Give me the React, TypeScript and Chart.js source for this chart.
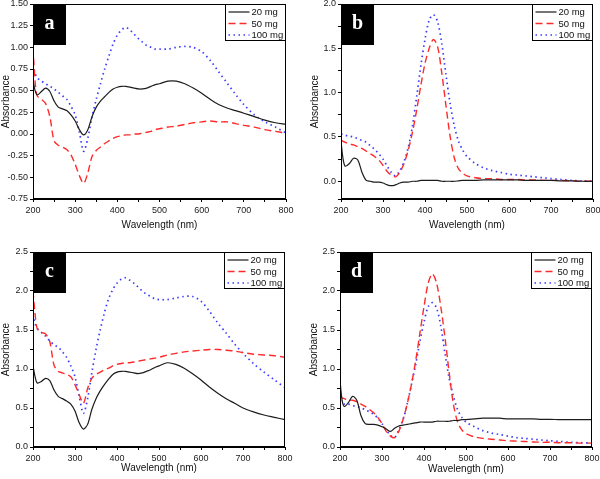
import React, { useEffect, useRef } from 'react';
import { Chart, registerables } from 'chart.js';
Chart.register(...registerables);

const wavelengths = [200, 205, 210, 220, 230, 240, 250, 260, 270, 280, 290, 300, 310, 320, 330, 340, 350, 360, 370, 380, 390, 400, 410, 420, 430, 440, 450, 460, 470, 480, 490, 500, 520, 540, 560, 580, 600, 620, 640, 660, 680, 700, 725, 750, 775, 800];

const seriesLabels = ['20 mg', '50 mg', '100 mg'];

// Panel a
const a20 = [0.62, 0.50, 0.45, 0.49, 0.53, 0.49, 0.38, 0.31, 0.29, 0.27, 0.22, 0.15, 0.05, -0.01, 0.05, 0.20, 0.31, 0.38, 0.43, 0.48, 0.52, 0.54, 0.55, 0.55, 0.54, 0.53, 0.52, 0.52, 0.53, 0.55, 0.57, 0.58, 0.61, 0.61, 0.58, 0.53, 0.47, 0.40, 0.34, 0.30, 0.27, 0.24, 0.20, 0.16, 0.13, 0.11];
const a50 = [1.00, 0.60, 0.44, 0.40, 0.35, 0.20, -0.08, -0.13, -0.15, -0.18, -0.24, -0.35, -0.48, -0.57, -0.45, -0.26, -0.19, -0.15, -0.11, -0.08, -0.05, -0.03, -0.02, -0.01, -0.01, 0.00, 0.00, 0.01, 0.02, 0.03, 0.05, 0.06, 0.08, 0.09, 0.11, 0.13, 0.14, 0.15, 0.14, 0.14, 0.12, 0.10, 0.08, 0.05, 0.03, 0.01];
const a100 = [0.80, 0.70, 0.65, 0.61, 0.58, 0.55, 0.52, 0.48, 0.44, 0.40, 0.32, 0.22, 0.02, -0.20, -0.05, 0.20, 0.40, 0.58, 0.75, 0.90, 1.04, 1.14, 1.20, 1.23, 1.20, 1.15, 1.10, 1.06, 1.02, 1.00, 0.98, 0.98, 0.98, 1.00, 1.01, 1.00, 0.95, 0.85, 0.72, 0.59, 0.46, 0.34, 0.22, 0.14, 0.08, 0.01];

// Panel b
const b20 = [0.45, 0.25, 0.17, 0.20, 0.26, 0.24, 0.10, 0.01, 0.00, -0.01, -0.01, -0.02, -0.04, -0.05, -0.04, -0.02, -0.01, -0.01, 0.00, 0.00, 0.01, 0.01, 0.01, 0.01, 0.01, 0.00, 0.00, 0.00, 0.00, 0.005, 0.01, 0.01, 0.01, 0.015, 0.015, 0.015, 0.015, 0.015, 0.01, 0.01, 0.01, 0.01, 0.005, 0.005, 0.00, 0.00];
const b50 = [0.47, 0.45, 0.44, 0.42, 0.41, 0.39, 0.37, 0.34, 0.31, 0.28, 0.24, 0.18, 0.11, 0.07, 0.05, 0.10, 0.20, 0.35, 0.55, 0.80, 1.08, 1.33, 1.50, 1.60, 1.52, 1.22, 0.85, 0.50, 0.26, 0.14, 0.09, 0.06, 0.04, 0.03, 0.03, 0.02, 0.02, 0.02, 0.015, 0.015, 0.01, 0.01, 0.01, 0.005, 0.00, 0.00];
const b100 = [0.53, 0.53, 0.52, 0.51, 0.50, 0.48, 0.46, 0.44, 0.40, 0.36, 0.31, 0.25, 0.17, 0.10, 0.06, 0.12, 0.22, 0.38, 0.62, 0.95, 1.30, 1.60, 1.82, 1.88, 1.80, 1.55, 1.20, 0.87, 0.62, 0.45, 0.35, 0.28, 0.20, 0.15, 0.12, 0.10, 0.08, 0.07, 0.06, 0.05, 0.04, 0.03, 0.02, 0.01, 0.005, 0.00];

// Panel c
const c20 = [1.04, 0.90, 0.82, 0.84, 0.88, 0.85, 0.73, 0.65, 0.62, 0.59, 0.55, 0.46, 0.31, 0.23, 0.29, 0.48, 0.62, 0.72, 0.80, 0.87, 0.93, 0.96, 0.97, 0.97, 0.96, 0.95, 0.94, 0.95, 0.97, 0.99, 1.02, 1.04, 1.08, 1.06, 1.01, 0.94, 0.86, 0.77, 0.69, 0.62, 0.56, 0.50, 0.45, 0.41, 0.38, 0.35];
const c50 = [2.00, 1.70, 1.52, 1.47, 1.45, 1.35, 1.05, 0.97, 0.95, 0.93, 0.90, 0.80, 0.67, 0.56, 0.75, 0.88, 0.93, 0.96, 0.99, 1.01, 1.04, 1.06, 1.07, 1.08, 1.08, 1.09, 1.10, 1.11, 1.12, 1.13, 1.14, 1.15, 1.18, 1.20, 1.22, 1.23, 1.24, 1.25, 1.25, 1.24, 1.23, 1.21, 1.19, 1.18, 1.17, 1.15];
const c100 = [1.70, 1.58, 1.52, 1.47, 1.42, 1.36, 1.31, 1.28, 1.22, 1.15, 1.04, 0.90, 0.65, 0.43, 0.62, 0.95, 1.25, 1.50, 1.72, 1.90, 2.02, 2.10, 2.15, 2.17, 2.14, 2.10, 2.05, 2.00, 1.96, 1.93, 1.90, 1.89, 1.89, 1.91, 1.93, 1.93, 1.87, 1.74, 1.59, 1.46, 1.32, 1.20, 1.07, 0.96, 0.86, 0.76];

// Panel d
const d20 = [0.85, 0.60, 0.52, 0.57, 0.65, 0.60, 0.40, 0.30, 0.29, 0.29, 0.28, 0.26, 0.23, 0.20, 0.24, 0.27, 0.28, 0.29, 0.30, 0.31, 0.32, 0.32, 0.32, 0.32, 0.33, 0.33, 0.33, 0.33, 0.34, 0.34, 0.35, 0.35, 0.36, 0.37, 0.37, 0.37, 0.36, 0.36, 0.36, 0.36, 0.355, 0.355, 0.35, 0.35, 0.35, 0.35];
const d50 = [0.65, 0.63, 0.62, 0.60, 0.60, 0.58, 0.55, 0.52, 0.48, 0.44, 0.38, 0.30, 0.20, 0.14, 0.12, 0.20, 0.35, 0.55, 0.80, 1.10, 1.45, 1.80, 2.10, 2.22, 2.10, 1.80, 1.40, 0.95, 0.55, 0.32, 0.22, 0.17, 0.13, 0.11, 0.10, 0.09, 0.08, 0.075, 0.07, 0.065, 0.06, 0.06, 0.055, 0.055, 0.05, 0.05];
const d100 = [0.60, 0.57, 0.55, 0.55, 0.53, 0.52, 0.50, 0.48, 0.45, 0.42, 0.37, 0.30, 0.22, 0.15, 0.12, 0.22, 0.35, 0.55, 0.80, 1.05, 1.35, 1.60, 1.80, 1.85, 1.78, 1.55, 1.20, 0.88, 0.65, 0.48, 0.38, 0.32, 0.26, 0.21, 0.18, 0.16, 0.14, 0.12, 0.11, 0.10, 0.09, 0.08, 0.07, 0.06, 0.055, 0.05];

const lineStyles = [
  { color: '#1c1c1c', width: 1.2, dash: [] as number[] },
  { color: '#ff2a2a', width: 1.4, dash: [7, 4] },
  { color: '#3a3aff', width: 1.7, dash: [1.5, 3.5] },
];

type PanelDef = {
  letter: string;
  series: number[][];
  pos: { x: number; y: number; w: number; h: number };
  area: { left: number; top: number; right: number; bottom: number };
  yMin: number;
  yMax: number;
  yStep: number;
  yLabelEvery: number;
  yDecimals: number;
  yTitlePad: number;
  xTitlePad: number;
};

const panels: PanelDef[] = [
  { letter: 'a', series: [a20, a50, a100], pos: { x: 0, y: 0, w: 300, h: 240 }, area: { left: 33, top: 4, right: 286, bottom: 199 }, yMin: -0.75, yMax: 1.5, yStep: 0.25, yLabelEvery: 0.25, yDecimals: 2, yTitlePad: 0, xTitlePad: 9 },
  { letter: 'b', series: [b20, b50, b100], pos: { x: 300, y: 0, w: 300, h: 240 }, area: { left: 41, top: 4, right: 293, bottom: 199 }, yMin: -0.2, yMax: 2.0, yStep: 0.25, yLabelEvery: 0.5, yDecimals: 1, yTitlePad: 9, xTitlePad: 9 },
  { letter: 'c', series: [c20, c50, c100], pos: { x: 0, y: 240, w: 300, h: 239 }, area: { left: 33, top: 12, right: 285, bottom: 207 }, yMin: 0, yMax: 2.5, yStep: 0.25, yLabelEvery: 0.5, yDecimals: 1, yTitlePad: 0, xTitlePad: 5 },
  { letter: 'd', series: [d20, d50, d100], pos: { x: 300, y: 240, w: 300, h: 239 }, area: { left: 40, top: 12, right: 292, bottom: 207 }, yMin: 0, yMax: 2.5, yStep: 0.25, yLabelEvery: 0.5, yDecimals: 1, yTitlePad: 8, xTitlePad: 4 },
];

const decorPlugin = {
  id: 'decor',
  afterDraw(chart: any, _args: any, opts: any) {
    const { ctx, chartArea: ca } = chart;
    const L = Math.round(ca.left) + 0.5;
    const T = Math.round(ca.top) + 0.5;
    const R = Math.round(ca.right) - 0.5;
    const B = Math.round(ca.bottom) - 0.5;
    ctx.save();
    ctx.strokeStyle = '#000';
    ctx.lineWidth = 1;
    ctx.setLineDash([]);
    ctx.strokeRect(L, T, R - L, B - T);
    ctx.fillStyle = '#000';
    ctx.fillRect(Math.round(ca.left), Math.round(ca.top), 33, 41);
    ctx.fillStyle = '#fff';
    ctx.font = 'bold 20px "Liberation Serif", "Times New Roman", serif';
    ctx.textAlign = 'center';
    ctx.textBaseline = 'middle';
    ctx.fillText(opts.letter, Math.round(ca.left) + 16.5, Math.round(ca.top) + 20);
    const bw = 60;
    const bh = 36;
    const x0 = Math.round(ca.right) - bw - 0.5;
    const y0 = T;
    ctx.fillStyle = '#fff';
    ctx.fillRect(x0, y0, bw, bh);
    ctx.strokeStyle = '#000';
    ctx.lineWidth = 1;
    ctx.strokeRect(x0, y0, bw, bh);
    ctx.textAlign = 'left';
    ctx.textBaseline = 'middle';
    ctx.font = '9.5px "Liberation Sans", Arial, sans-serif';
    seriesLabels.forEach((lab, i) => {
      const y = y0 + 7.5 + i * 11.5;
      const st = lineStyles[i];
      ctx.strokeStyle = st.color;
      ctx.lineWidth = st.width;
      ctx.setLineDash(st.dash);
      ctx.beginPath();
      ctx.moveTo(x0 + 3, y);
      ctx.lineTo(x0 + 24, y);
      ctx.stroke();
      ctx.setLineDash([]);
      ctx.fillStyle = '#111';
      ctx.fillText(lab, x0 + 26, y + 0.5);
    });
    ctx.restore();
  },
};

function Panel({ def }: { def: PanelDef }) {
  const ref = useRef<HTMLCanvasElement | null>(null);
  useEffect(() => {
    if (!ref.current) return;
    const { pos, area } = def;
    const datasets = def.series.map((vals, i) => ({
      label: seriesLabels[i],
      data: wavelengths.map((w, j) => ({ x: w, y: vals[j] })),
      borderColor: lineStyles[i].color,
      borderWidth: lineStyles[i].width,
      borderDash: lineStyles[i].dash,
      pointRadius: 0,
      tension: 0.3,
      fill: false,
    }));
    const tickFont = { family: '"Liberation Sans", Arial, sans-serif', size: 9 };
    const chart = new Chart(ref.current, {
      type: 'line',
      data: { datasets },
      plugins: [decorPlugin],
      options: {
        animation: false,
        responsive: false,
        maintainAspectRatio: false,
        devicePixelRatio: 1,
        layout: { padding: { top: area.top, right: pos.w - area.right, left: 0, bottom: 0 } },
        plugins: {
          legend: { display: false },
          tooltip: { enabled: false },
          decor: { letter: def.letter },
        } as any,
        scales: {
          x: {
            type: 'linear',
            min: 200,
            max: 800,
            grid: { drawOnChartArea: false, drawTicks: true, tickLength: 3, color: '#000' },
            border: { display: true, color: '#000', width: 1 },
            ticks: {
              stepSize: 50,
              autoSkip: false,
              maxRotation: 0,
              padding: 3,
              color: '#222',
              font: tickFont,
              callback: (v: any) => (Math.round(v) % 100 === 0 ? String(Math.round(v)) : ''),
            },
            title: {
              display: true,
              text: 'Wavelength (nm)',
              color: '#111',
              font: { family: '"Liberation Sans", Arial, sans-serif', size: 10 },
              padding: { top: 0, bottom: def.xTitlePad },
            },
            afterFit: (s: any) => {
              s.height = pos.h - area.bottom;
              s.paddingLeft = 0;
              s.paddingRight = 0;
            },
          },
          y: {
            type: 'linear',
            min: def.yMin,
            max: def.yMax,
            grid: { drawOnChartArea: false, drawTicks: true, tickLength: 3, color: '#000' },
            border: { display: true, color: '#000', width: 1 },
            ticks: {
              stepSize: def.yStep,
              autoSkip: false,
              padding: 2,
              color: '#222',
              font: tickFont,
              callback: (v: any) => {
                const n = Number(v);
                const r = n / def.yLabelEvery;
                if (n < def.yMin - 1e-9 || Math.abs(r - Math.round(r)) > 1e-6) return '';
                if (Math.abs(n - def.yMin) < 1e-9 && Math.abs((n / def.yStep) - Math.round(n / def.yStep)) > 1e-6) return '';
                return n.toFixed(def.yDecimals);
              },
            },
            title: {
              display: true,
              text: 'Absorbance',
              color: '#111',
              font: { family: '"Liberation Sans", Arial, sans-serif', size: 10 },
              padding: { top: def.yTitlePad, bottom: 0 },
            },
            afterFit: (s: any) => {
              s.width = area.left;
              s.paddingTop = 0;
              s.paddingBottom = 0;
            },
          },
        },
      } as any,
    });
    return () => chart.destroy();
  }, [def]);
  return (
    <canvas
      ref={ref}
      width={def.pos.w}
      height={def.pos.h}
      style={{ position: 'absolute', left: def.pos.x, top: def.pos.y, width: def.pos.w, height: def.pos.h }}
    />
  );
}

export default function App() {
  return (
    <div style={{ position: 'absolute', left: 0, top: 0, width: 600, height: 479, background: '#fff', overflow: 'hidden' }}>
      {panels.map((p) => (
        <Panel key={p.letter} def={p} />
      ))}
    </div>
  );
}
